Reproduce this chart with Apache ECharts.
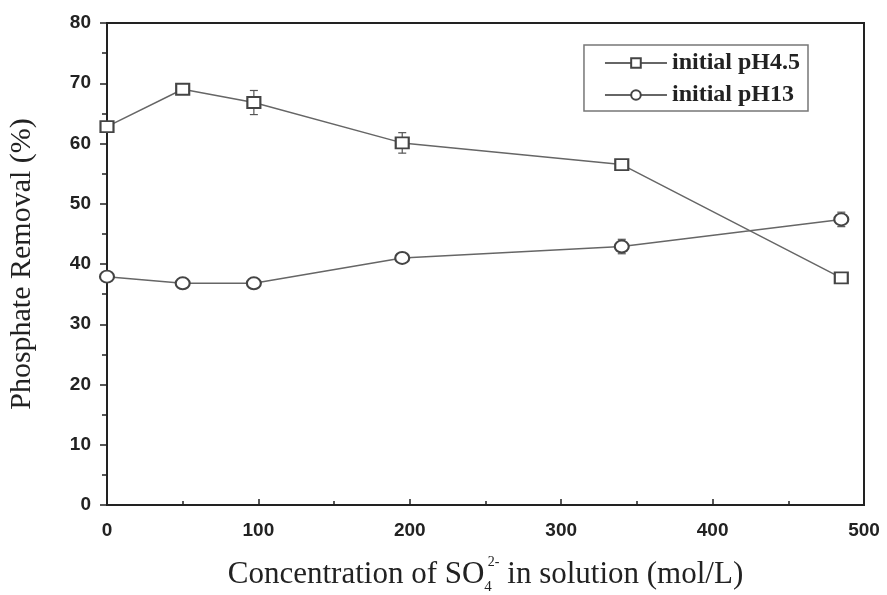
<!DOCTYPE html>
<html>
<head>
<meta charset="utf-8">
<script src="https://cdn.jsdelivr.net/npm/echarts@6/dist/echarts.min.js"></script>
<style>
html,body{margin:0;padding:0;background:#fff;}
#chart{width:887px;height:595px;}
</style>
</head>
<body>
<div id="chart"></div>
<script>
// SO4 2- concentration (mol/L)
var concPH45 = [0, 50, 97, 195, 340, 485];
var removalPH45 = [62.8, 69, 66.8, 60.1, 56.5, 37.7];
var errPH45 = [0.5, 0.5, 2, 1.7, 0.8, 0.8];

var concPH13 = [0, 50, 97, 195, 340, 485];
var removalPH13 = [37.9, 36.8, 36.8, 41, 42.9, 47.4];
var errPH13 = [0.5, 0.5, 0.5, 0.5, 1.2, 1.2];

function pairs(xs, ys){
    return xs.map(function(x, i){ return [x, ys[i]]; });
}
function errData(xs, ys, es){
    return xs.map(function(x, i){ return [x, ys[i] - es[i], ys[i] + es[i]]; });
}
function errBar(params, api){
    var lo = api.coord([api.value(0), api.value(1)]);
    var hi = api.coord([api.value(0), api.value(2)]);
    var w = 4;
    var st = {stroke:'#555', lineWidth:1.2};
    return {type:'group', children:[
        {type:'line', shape:{x1:lo[0], y1:lo[1], x2:hi[0], y2:hi[1]}, style:st},
        {type:'line', shape:{x1:lo[0]-w, y1:lo[1], x2:lo[0]+w, y2:lo[1]}, style:st},
        {type:'line', shape:{x1:hi[0]-w, y1:hi[1], x2:hi[0]+w, y2:hi[1]}, style:st}
    ]};
}

var myChart = echarts.init(document.getElementById('chart'));
var tickFont = {fontFamily:'Liberation Sans', fontWeight:'bold', fontSize:19, color:'#222'};

var option = {
    backgroundColor:'#fff',
    animation:false,
    grid:{left:107, right:23, top:23, bottom:90, outerBoundsMode:'none', containLabel:false,
          show:true, borderColor:'#222', borderWidth:2},
    legend:{
        right:79, top:45,
        orient:'vertical',
        itemWidth:62, itemHeight:12, itemGap:8,
        padding:[6,8,4,20],
        borderColor:'#777', borderWidth:1.5,
        textStyle:{fontFamily:'Liberation Serif', fontSize:24, color:'#222', fontWeight:'bold'},
        data:['initial pH4.5', 'initial pH13']
    },
    xAxis:{
        type:'value', min:0, max:500, interval:100,
        name:'{a|Concentration of SO}{sub|4}{sup|2-}{a| in solution (mol/L)}',
        nameLocation:'middle', nameGap:50,
        nameTextStyle:{
            rich:{
                a:{fontFamily:'Liberation Serif', fontSize:31, color:'#222', lineHeight:40, verticalAlign:'middle'},
                sub:{fontFamily:'Liberation Serif', fontSize:15, color:'#222', lineHeight:40, verticalAlign:'bottom'},
                sup:{fontFamily:'Liberation Serif', fontSize:14, color:'#222', lineHeight:40, verticalAlign:'top', padding:[0,0,0,-4]}
            }
        },
        axisLine:{lineStyle:{color:'#222', width:2}},
        axisTick:{inside:true, length:6, lineStyle:{color:'#222', width:1.5}},
        minorTick:{show:true, splitNumber:2, length:4, lineStyle:{color:'#222', width:1.5}},
        axisLabel:Object.assign({margin:16}, tickFont),
        splitLine:{show:false}
    },
    yAxis:{
        type:'value', min:0, max:80, interval:10,
        name:'Phosphate Removal (%)',
        nameLocation:'middle', nameGap:70,
        nameTextStyle:{fontFamily:'Liberation Serif', fontSize:30, color:'#222'},
        axisLine:{lineStyle:{color:'#222', width:2}},
        axisTick:{inside:false, length:7, lineStyle:{color:'#222', width:1.5}},
        minorTick:{show:true, splitNumber:2, length:5, lineStyle:{color:'#222', width:1.5}},
        axisLabel:Object.assign({margin:16}, tickFont),
        splitLine:{show:false}
    },
    series:[
        {
            name:'initial pH4.5', type:'line',
            data:pairs(concPH45, removalPH45),
            symbol:'emptyRect', symbolSize:[13,11],
            lineStyle:{color:'#666', width:1.5},
            itemStyle:{color:'#444', borderColor:'#444', borderWidth:2}
        },
        {
            name:'initial pH13', type:'line',
            data:pairs(concPH13, removalPH13),
            symbol:'emptyCircle', symbolSize:[14,12],
            lineStyle:{color:'#666', width:1.5},
            itemStyle:{color:'#444', borderColor:'#444', borderWidth:2}
        },
        {type:'custom', renderItem:errBar, data:errData(concPH45, removalPH45, errPH45), z:1, silent:true},
        {type:'custom', renderItem:errBar, data:errData(concPH13, removalPH13, errPH13), z:1, silent:true}
    ]
};
myChart.setOption(option);
</script>
</body>
</html>
